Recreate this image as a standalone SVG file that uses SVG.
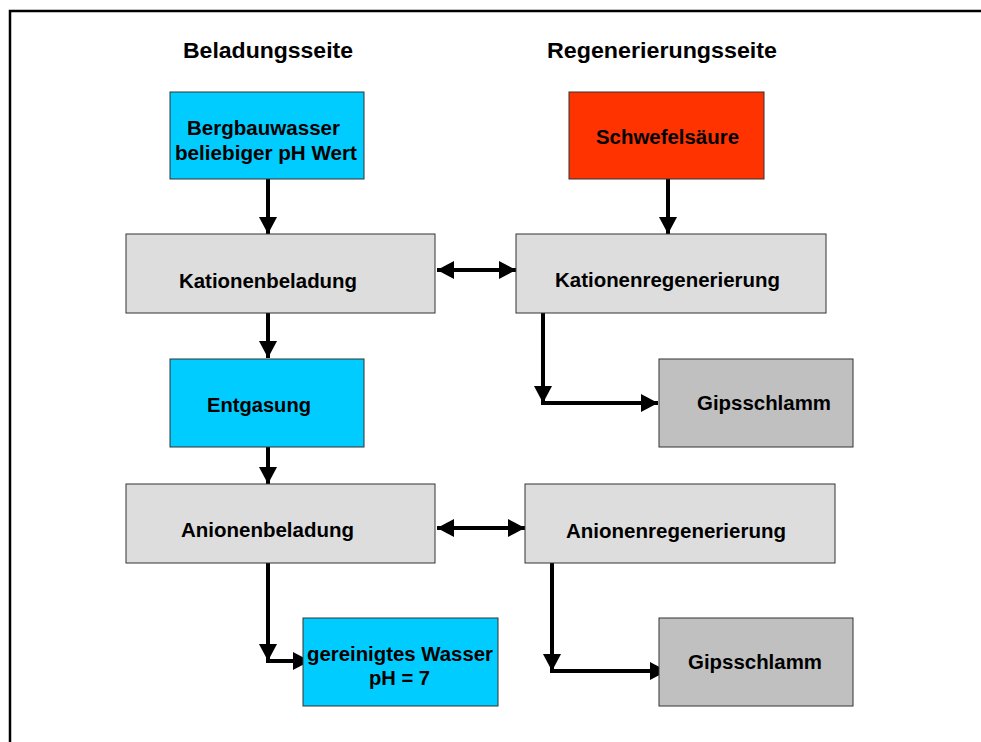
<svg xmlns="http://www.w3.org/2000/svg" width="981" height="742" viewBox="0 0 981 742">
<style>
.box{stroke:#333333;stroke-width:1}
.cyan{fill:#00CCFF}
.red{fill:#FF3300}
.lg{fill:#DDDDDD}
.dg{fill:#C0C0C0}
text{font-family:"Liberation Sans",Arial,sans-serif;font-weight:bold;fill:#000}
.h{font-size:22px}
.t{font-size:19.5px}
.c{fill:none;stroke:#000;stroke-width:4}
</style>
<defs>
<marker id="ah" markerUnits="userSpaceOnUse" markerWidth="17" markerHeight="18" refX="17" refY="9" orient="auto-start-reverse">
<path d="M0,0 L17,9 L0,18 z" fill="#000"/>
</marker>
</defs>
<rect width="981" height="742" fill="#fff"/>
<path d="M10,742 V11 H981" fill="none" stroke="#000" stroke-width="2.5"/>
<g id="headers">
<text class="h" x="183" y="58" textLength="170" lengthAdjust="spacingAndGlyphs">Beladungsseite</text>
<text class="h" x="547" y="58" textLength="230" lengthAdjust="spacingAndGlyphs">Regenerierungsseite</text>
</g>
<g id="connectors">
<path class="c" d="M268,179 V234" marker-end="url(#ah)"/>
<path class="c" d="M668,179 V234" marker-end="url(#ah)"/>
<path class="c" d="M437,270 H516" marker-start="url(#ah)" marker-end="url(#ah)"/>
<path class="c" d="M268,313 V358" marker-end="url(#ah)"/>
<path class="c" d="M543,313 V403" marker-end="url(#ah)"/>
<path class="c" d="M541,403 H658" marker-end="url(#ah)"/>
<path class="c" d="M268,447 V484" marker-end="url(#ah)"/>
<path class="c" d="M437,528 H525" marker-start="url(#ah)" marker-end="url(#ah)"/>
<path class="c" d="M268,563 V661" marker-end="url(#ah)"/>
<path class="c" d="M266,661 H310" marker-end="url(#ah)"/>
<path class="c" d="M552,563 V671" marker-end="url(#ah)"/>
<path class="c" d="M550,671 H667" marker-end="url(#ah)"/>
</g>
<g id="bergbauwasser">
<rect class="box cyan" x="170" y="92" width="194" height="87"/>
<text class="t" x="187" y="135" textLength="153" lengthAdjust="spacingAndGlyphs">Bergbauwasser</text>
<text class="t" x="175" y="160" textLength="182" lengthAdjust="spacingAndGlyphs">beliebiger pH Wert</text>
</g>
<g id="schwefelsaeure">
<rect class="box red" x="569" y="92" width="195" height="87"/>
<text class="t" x="596" y="144" textLength="143" lengthAdjust="spacingAndGlyphs">Schwefelsäure</text>
</g>
<g id="kationenbeladung">
<rect class="box lg" x="126" y="234" width="309" height="79"/>
<text class="t" x="179" y="288" textLength="178" lengthAdjust="spacingAndGlyphs">Kationenbeladung</text>
</g>
<g id="kationenregenerierung">
<rect class="box lg" x="516" y="234" width="310" height="79"/>
<text class="t" x="555" y="287" textLength="225" lengthAdjust="spacingAndGlyphs">Kationenregenerierung</text>
</g>
<g id="entgasung">
<rect class="box cyan" x="170" y="359" width="194" height="88"/>
<text class="t" x="207" y="412" textLength="104" lengthAdjust="spacingAndGlyphs">Entgasung</text>
</g>
<g id="gipsschlamm1">
<rect class="box dg" x="659" y="359" width="194" height="88"/>
<text class="t" x="697" y="410" textLength="134" lengthAdjust="spacingAndGlyphs">Gipsschlamm</text>
</g>
<g id="anionenbeladung">
<rect class="box lg" x="126" y="484" width="309" height="79"/>
<text class="t" x="181" y="537" textLength="173" lengthAdjust="spacingAndGlyphs">Anionenbeladung</text>
</g>
<g id="anionenregenerierung">
<rect class="box lg" x="525" y="484" width="310" height="79"/>
<text class="t" x="566" y="538" textLength="220" lengthAdjust="spacingAndGlyphs">Anionenregenerierung</text>
</g>
<g id="gereinigtes-wasser">
<rect class="box cyan" x="303" y="618" width="195" height="88"/>
<text class="t" x="307" y="661" textLength="186" lengthAdjust="spacingAndGlyphs">gereinigtes Wasser</text>
<text class="t" x="369" y="685" textLength="61" lengthAdjust="spacingAndGlyphs">pH = 7</text>
</g>
<g id="gipsschlamm2">
<rect class="box dg" x="659" y="618" width="194" height="88"/>
<text class="t" x="688" y="669" textLength="134" lengthAdjust="spacingAndGlyphs">Gipsschlamm</text>
</g>
</svg>
